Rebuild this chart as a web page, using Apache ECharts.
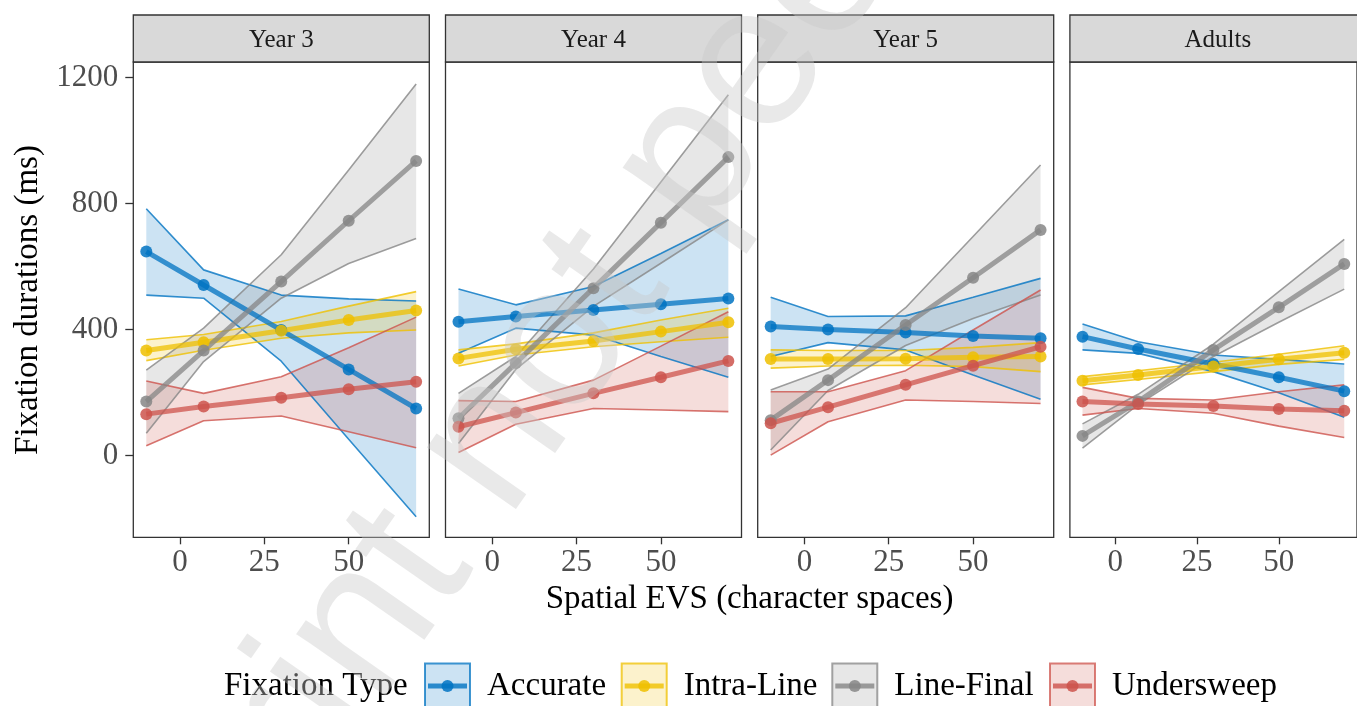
<!DOCTYPE html>
<html lang="en">
<head>
    <meta charset="UTF-8">
    <title>Fixation durations by spatial EVS</title>
    <script src="https://cdn.jsdelivr.net/npm/echarts/dist/echarts.min.js"></script>
    <style>
        html, body { margin: 0; padding: 0; background: #fff; }
        #main { width: 1357px; height: 706px; }
    </style>
</head>
<body>
<div id="main"></div>
<script>
    // x positions (character spaces)
    const xs = [-10, 7, 30, 50, 70];
    const panels = ['Year 3', 'Year 4', 'Year 5', 'Adults'];
    const types = ['Accurate', 'Intra-Line', 'Line-Final', 'Undersweep'];
    const xTicks = [0, 25, 50];
    const yTicks = [0, 400, 800, 1200];

    // rows: Accurate, Intra-Line, Line-Final, Undersweep
    const year3Mean = [[648, 542, 399, 274, 150], [334, 360, 397, 431, 461], [172, 334, 553, 746, 936], [132, 156, 184, 211, 235]];
    const year3Lower = [[510, 500, 300, 52, -194], [302, 335, 373, 390, 399], [71, 299, 500, 610, 690], [32, 111, 126, 76, 25]];
    const year3Upper = [[784, 590, 510, 498, 491], [368, 385, 426, 475, 521], [272, 405, 638, 907, 1180], [237, 198, 251, 343, 440]];

    const year4Mean = [[425, 442, 463, 481, 499], [309, 338, 364, 394, 424], [119, 294, 532, 740, 948], [92, 137, 198, 249, 301]];
    const year4Lower = [[325, 405, 383, 315, 249], [285, 320, 346, 362, 376], [39, 274, 474, 611, 749], [10, 100, 150, 145, 140]];
    const year4Upper = [[529, 479, 537, 642, 749], [336, 355, 390, 431, 468], [198, 315, 593, 869, 1146], [175, 172, 240, 348, 457]];

    const year5Mean = [[410, 401, 391, 380, 373], [307, 307, 308, 313, 315], [113, 240, 415, 565, 717], [103, 154, 225, 286, 346]];
    const year5Lower = [[315, 359, 336, 256, 179], [278, 285, 287, 283, 267], [18, 207, 350, 436, 510], [2, 108, 177, 172, 166]];
    const year5Upper = [[503, 442, 444, 503, 563], [336, 334, 334, 344, 359], [209, 275, 470, 696, 923], [203, 203, 270, 399, 526]];

    const adultsMean = [[378, 339, 291, 249, 205], [238, 256, 283, 306, 327], [63, 172, 336, 471, 609], [172, 164, 158, 148, 143]];
    const adultsLower = [[336, 325, 267, 200, 122], [225, 242, 267, 290, 306], [24, 162, 315, 424, 529], [129, 150, 135, 94, 58]];
    const adultsUpper = [[418, 362, 320, 306, 291], [251, 270, 297, 322, 349], [101, 195, 354, 521, 687], [217, 182, 177, 203, 225]];

    const means = [year3Mean, year4Mean, year5Mean, adultsMean];
    const lowers = [year3Lower, year4Lower, year5Lower, adultsLower];
    const uppers = [year3Upper, year4Upper, year5Upper, adultsUpper];

    const colors = ['#0073C2', '#EFC000', '#868686', '#CD534C'];
    const serif = '"Liberation Serif", "Times New Roman", serif';

    // layout of the facets
    const panelLeft0 = 133.3, panelStep = 312.2, panelW = 296;
    const panelTop = 62, panelH = 475.3, stripTop = 15;
    const keyLefts = [425, 621.7, 832.3, 1050];

    function rgba(hex, a) {
        const n = parseInt(hex.slice(1), 16);
        return 'rgba(' + (n >> 16) + ',' + ((n >> 8) & 255) + ',' + (n & 255) + ',' + a + ')';
    }

    // confidence ribbon drawn as one polygon through the axis scales
    function bandRenderer(lo, up, color) {
        return function (params, api) {
            if (params.dataIndex !== 0) return null;
            const pts = [];
            for (let i = 0; i < xs.length; i++) pts.push(api.coord([xs[i], lo[i]]));
            for (let i = xs.length - 1; i >= 0; i--) pts.push(api.coord([xs[i], up[i]]));
            return {
                type: 'polygon', silent: true,
                shape: {points: pts},
                style: {fill: rgba(color, 0.2)}
            };
        };
    }

    const grids = [], xAxes = [], yAxes = [], series = [], graphics = [];

    panels.forEach((name, p) => {
        const left = panelLeft0 + p * panelStep;
        grids.push({
            left: left, top: panelTop, width: panelW, height: panelH,
            show: true, borderColor: '#333', borderWidth: 1.3, backgroundColor: '#fff'
        });
        xAxes.push({
            gridIndex: p, type: 'value', min: -13.85, max: 73.9,
            axisLine: {show: false, onZero: false},
            splitLine: {show: false},
            axisTick: {show: true, customValues: xTicks, length: 7, lineStyle: {color: '#333', width: 1.3}},
            axisLabel: {customValues: xTicks, fontSize: 31, fontFamily: serif, color: '#4d4d4d', margin: 10}
        });
        yAxes.push({
            gridIndex: p, type: 'value', min: -259, max: 1250,
            axisLine: {show: false, onZero: false},
            splitLine: {show: false},
            axisTick: {show: p === 0, customValues: yTicks, length: 8, lineStyle: {color: '#333', width: 1.3}},
            axisLabel: {show: p === 0, customValues: yTicks, fontSize: 31, fontFamily: serif, color: '#4d4d4d',
                margin: 15, formatter: v => String(v)}
        });

        types.forEach((t, k) => {
            const c = colors[k];
            const lo = lowers[p][k], up = uppers[p][k];
            series.push({
                type: 'custom', xAxisIndex: p, yAxisIndex: p, z: 1, silent: true,
                data: xs.map((x, i) => [x, lo[i], up[i]]),
                encode: {x: 0, y: [1, 2]},
                renderItem: bandRenderer(lo, up, c)
            });
        });
        types.forEach((t, k) => {
            const c = colors[k];
            [lowers[p][k], uppers[p][k]].forEach(edge => {
                series.push({
                    type: 'line', xAxisIndex: p, yAxisIndex: p, z: 2, silent: true,
                    data: xs.map((x, i) => [x, edge[i]]),
                    symbol: 'none',
                    lineStyle: {color: rgba(c, 0.8), width: 1.6}
                });
            });
        });
        types.forEach((t, k) => {
            const c = colors[k];
            series.push({
                name: t, type: 'line', xAxisIndex: p, yAxisIndex: p, z: 3, silent: true,
                data: xs.map((x, i) => [x, means[p][k][i]]),
                symbol: 'circle', symbolSize: 12, showSymbol: true,
                lineStyle: {color: c, width: 5, opacity: 0.75},
                itemStyle: {color: c, opacity: 0.85}
            });
        });

        // facet strip
        graphics.push({
            type: 'rect', z: 10,
            shape: {x: left, y: stripTop, width: panelW, height: panelTop - stripTop},
            style: {fill: '#d9d9d9', stroke: '#333', lineWidth: 1.3}
        });
        graphics.push({
            type: 'text', z: 11, x: left + panelW / 2, y: 40,
            style: {text: name, font: '25px ' + serif, fill: '#1a1a1a',
                align: 'center', verticalAlign: 'middle', textAlign: 'center', textVerticalAlign: 'middle'}
        });
    });

    // axis titles
    graphics.push({
        type: 'text', z: 11, x: 749.5, y: 599,
        style: {text: 'Spatial EVS (character spaces)', font: '33px ' + serif, fill: '#000',
            align: 'center', verticalAlign: 'middle', textAlign: 'center', textVerticalAlign: 'middle'}
    });
    graphics.push({
        type: 'text', z: 11, x: 28, y: 300, rotation: Math.PI / 2,
        style: {text: 'Fixation durations (ms)', font: '33px ' + serif, fill: '#000',
            align: 'center', verticalAlign: 'middle', textAlign: 'center', textVerticalAlign: 'middle'}
    });

    // legend
    graphics.push({
        type: 'text', z: 11, x: 224, y: 686,
        style: {text: 'Fixation Type', font: '33px ' + serif, fill: '#000',
            align: 'left', verticalAlign: 'middle', textAlign: 'left', textVerticalAlign: 'middle'}
    });
    types.forEach((t, k) => {
        const kx = keyLefts[k], c = colors[k];
        graphics.push({
            type: 'rect', z: 11,
            shape: {x: kx, y: 663.5, width: 45, height: 48},
            style: {fill: rgba(c, 0.2), stroke: rgba(c, 0.75), lineWidth: 2}
        });
        graphics.push({
            type: 'line', z: 12,
            shape: {x1: kx + 3, y1: 686, x2: kx + 42, y2: 686},
            style: {stroke: rgba(c, 0.8), lineWidth: 5}
        });
        graphics.push({
            type: 'circle', z: 13,
            shape: {cx: kx + 22.5, cy: 686, r: 6},
            style: {fill: rgba(c, 0.85)}
        });
        graphics.push({
            type: 'text', z: 11, x: kx + 62, y: 686,
            style: {text: t, font: '33px ' + serif, fill: '#000',
                align: 'left', verticalAlign: 'middle', textAlign: 'left', textVerticalAlign: 'middle'}
        });
    });

    // watermark
    graphics.push({
        type: 'text', z: 100, x: 17, y: 1123, rotation: 55 * Math.PI / 180,
        style: {text: 'Preprint not peer reviewed', font: '205px "Liberation Sans", Arial, sans-serif',
            fill: 'rgba(200,200,200,0.4)',
            align: 'left', verticalAlign: 'middle', textAlign: 'left', textVerticalAlign: 'middle'}
    });

    const chart = echarts.init(document.getElementById('main'));
    chart.setOption({
        animation: false,
        backgroundColor: '#fff',
        grid: grids,
        xAxis: xAxes,
        yAxis: yAxes,
        series: series,
        graphic: graphics
    });
</script>
</body>
</html>
